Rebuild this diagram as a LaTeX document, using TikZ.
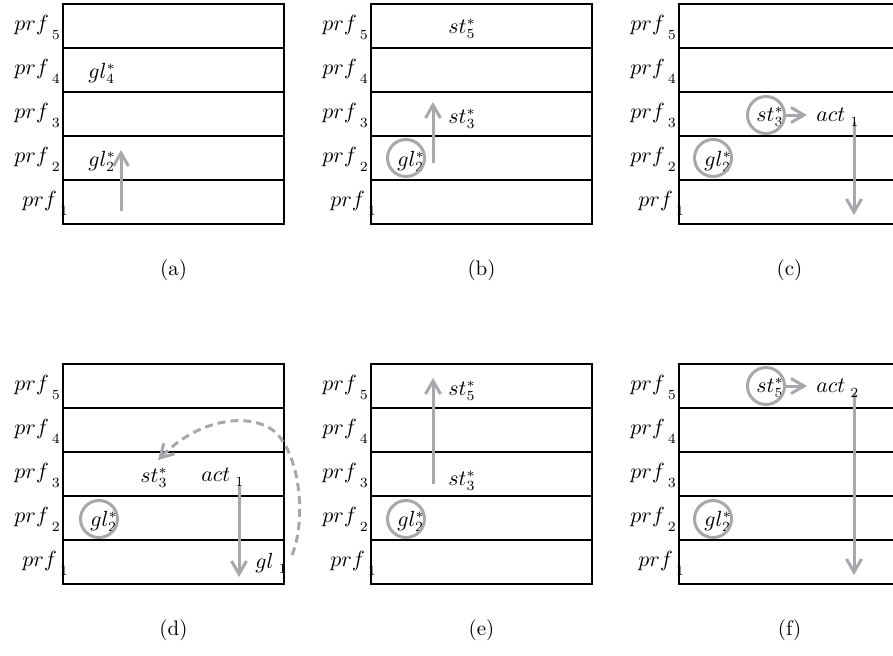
\documentclass[tikz,border=0pt]{standalone}
\usetikzlibrary{arrows.meta}
\definecolor{agray}{RGB}{166,168,171}
\newcommand\prfl[1]{$prf$\kern1.5pt\raisebox{-4.5pt}{$\scriptstyle #1$}}
\newcommand\subl[2]{$#1$\kern2.5pt\raisebox{-2.5pt}{$\scriptstyle #2$}}
\tikzset{
  every node/.style={font=\fontsize{10.5}{12}\selectfont, inner sep=0pt},
  lbl/.style={anchor=base west},
  boxline/.style={draw=black, line width=0.9pt},
  garrow/.style={draw=agray, line width=1.5pt, -{Straight Barb[length=6.5pt,width=7.5pt]}},
  gcirc/.style={circle, draw=agray, line width=1.5pt, minimum size=18.5pt},
  gdash/.style={draw=agray, line width=1.5pt, dash pattern=on 4pt off 2.5pt, -{Straight Barb[length=6.5pt,width=7.5pt]}}
}
\begin{document}
\begin{tikzpicture}[x=0.5pt,y=-0.5pt]
\useasboundingbox (0,0) rectangle (893,655);
\foreach \p/\L/\T in {a/63/4, b/371/4, c/679/4, d/63/364, e/371/364, f/679/364} {
  \begin{scope}[shift={(\L,\T)}]
    \draw[boxline] (0,0) rectangle (221,220);
    \foreach \k in {1,...,4} \draw[boxline] (0,\k*44) -- (221,\k*44);
    \foreach \k in {2,...,5} \node[lbl] (\p-prf\k) at (-49,{(5-\k)*44+26}) {\prfl{\k}};
    \node[lbl] (\p-prf1) at (-41,202) {\prfl{1}};
    \node (\p-cap) at (110.5,266) {(\p)};
  \end{scope}
}
% (a)
\begin{scope}[shift={(63,4)}]
  \node[lbl] (a-gl4) at (25,74) {$gl^*_4$};
  \node[lbl] (a-gl2) at (25,162) {$gl^*_2$};
  \coordinate (a-s) at (58,207);
  \coordinate (a-e) at (58,146);
  \draw[garrow] (a-s) -- (a-e);
\end{scope}
% (b)
\begin{scope}[shift={(371,4)}]
  \node[lbl] (b-st5) at (77,29) {$st^*_5$};
  \node[lbl] (b-st3) at (77,119) {$st^*_3$};
  \node[lbl] (b-gl2) at (26,162) {$gl^*_2$};
  \node[gcirc] (b-c2) at (35,154) {};
  \coordinate (b-s) at (62,159);
  \coordinate (b-e) at (62,98);
  \draw[garrow] (b-s) -- (b-e);
\end{scope}
% (c)
\begin{scope}[shift={(679,4)}]
  \coordinate (c-s) at (175,118);
  \coordinate (c-e) at (175,211);
  \draw[garrow] (c-s) -- (c-e);
  \node[lbl] (c-st3) at (77,117) {$st^*_3$};
  \node[gcirc] (c-c3) at (87,111) {};
  \node[lbl] (c-act) at (137,117) {\subl{act}{1}};
  \node[lbl] (c-gl2) at (25,162) {$gl^*_2$};
  \node[gcirc] (c-c2) at (34,154) {};
  \coordinate (c-r) at (128,111);
  \draw[garrow] (c-c3.east) -- (c-r);
\end{scope}
% (d)
\begin{scope}[shift={(63,364)}]
  \coordinate (d-s) at (176,121);
  \coordinate (d-e) at (176,213);
  \draw[garrow] (d-s) -- (d-e);
  \node[lbl] (d-st3) at (77,118) {$st^*_3$};
  \node[lbl] (d-act) at (138,117) {\subl{act}{1}};
  \node[lbl] (d-gl1) at (192,204) {\subl{gl}{1}};
  \node[lbl] (d-gl2) at (27,162) {$gl^*_2$};
  \node[gcirc] (d-c2) at (36,155) {};
  \coordinate (d-ds) at (229,191);
  \coordinate (d-de) at (95,96);
  \draw[gdash] (d-ds) .. controls (242,160) and (239,100) .. (216,72) .. controls (196,48) and (140,50) .. (d-de);
\end{scope}
% (e)
\begin{scope}[shift={(371,364)}]
  \node[lbl] (e-st5) at (77,31) {$st^*_5$};
  \node[lbl] (e-st3) at (77,121) {$st^*_3$};
  \node[lbl] (e-gl2) at (26,162) {$gl^*_2$};
  \node[gcirc] (e-c2) at (35,155) {};
  \coordinate (e-s) at (62,120);
  \coordinate (e-e) at (62,14);
  \draw[garrow] (e-s) -- (e-e);
\end{scope}
% (f)
\begin{scope}[shift={(679,364)}]
  \coordinate (f-s) at (175,29);
  \coordinate (f-e) at (175,211);
  \draw[garrow] (f-s) -- (f-e);
  \node[lbl] (f-st5) at (77,28) {$st^*_5$};
  \node[gcirc] (f-c5) at (87,22) {};
  \node[lbl] (f-act) at (137,28) {\subl{act}{2}};
  \node[lbl] (f-gl2) at (25,162) {$gl^*_2$};
  \node[gcirc] (f-c2) at (34,155) {};
  \coordinate (f-r) at (128,22);
  \draw[garrow] (f-c5.east) -- (f-r);
\end{scope}
\end{tikzpicture}
\end{document}
